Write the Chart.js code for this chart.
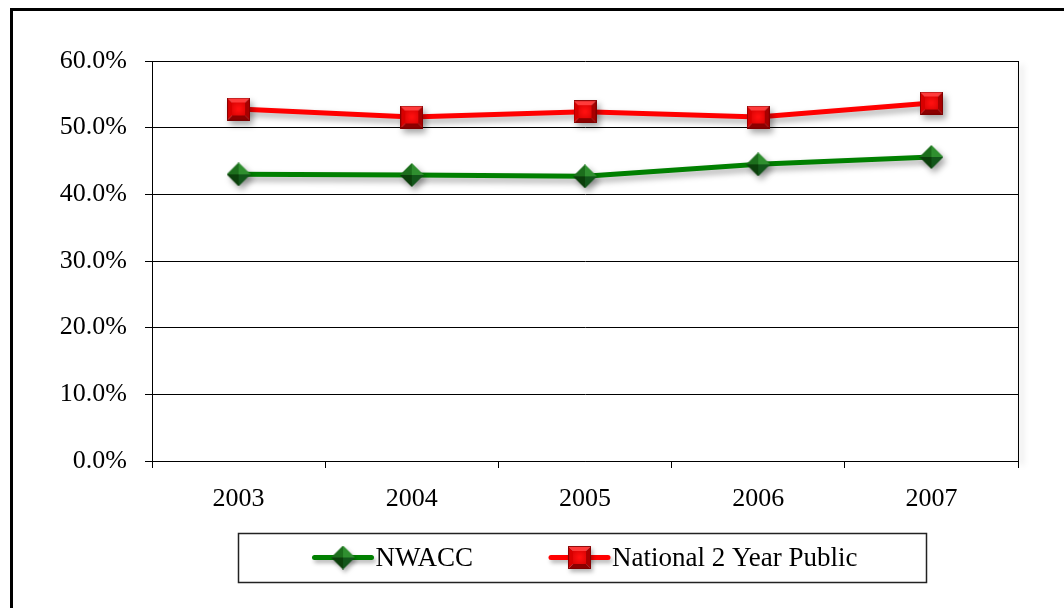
<!DOCTYPE html>
<html>
<head>
<meta charset="utf-8">
<script src="https://cdn.jsdelivr.net/npm/chart.js@4.4.0/dist/chart.umd.min.js"></script>
<style>
  html, body { margin: 0; padding: 0; background: #fff; }
  #wrap { width: 1064px; height: 608px; position: relative; }
</style>
</head>
<body>
<div id="wrap"><canvas id="chart"></canvas></div>
<script>
// data (percent)
const years = ['2003', '2004', '2005', '2006', '2007'];
const nwacc = [43.0, 42.9, 42.7, 44.5, 45.6];
const national = [52.8, 51.6, 52.4, 51.6, 53.7];
const seriesNames = ['NWACC', 'National 2 Year Public'];

const FONT = '"Liberation Serif", "Times New Roman", serif';

// beveled marker pictures
function makeSquare(size) {
  const c = document.createElement('canvas');
  c.width = c.height = size;
  const g = c.getContext('2d');
  const b = 5;
  const s = size;
  const facets = [
    [[0, 0], [s, 0], [s - b, b], [b, b], '#ff3b3b'],
    [[s, 0], [s, s], [s - b, s - b], [s - b, b], '#a80000'],
    [[s, s], [0, s], [b, s - b], [s - b, s - b], '#8c0000'],
    [[0, s], [0, 0], [b, b], [b, s - b], '#d80000']
  ];
  facets.forEach(f => {
    g.beginPath();
    g.moveTo(f[0][0], f[0][1]);
    for (let i = 1; i < 4; i++) g.lineTo(f[i][0], f[i][1]);
    g.closePath();
    g.fillStyle = f[4];
    g.fill();
  });
  const grd = g.createRadialGradient(s / 2, s / 2, 1, s / 2, s / 2, s / 2);
  grd.addColorStop(0, '#ff1010');
  grd.addColorStop(1, '#d00000');
  g.fillStyle = grd;
  g.fillRect(b, b, s - 2 * b, s - 2 * b);
  g.strokeStyle = 'rgba(120,0,0,0.8)';
  g.lineWidth = 1;
  g.strokeRect(0.5, 0.5, s - 1, s - 1);
  return c;
}

function makeDiamond(size) {
  const c = document.createElement('canvas');
  c.width = c.height = size;
  const g = c.getContext('2d');
  const h = size / 2;
  const pts = [[h, 0], [size, h], [h, size], [0, h]];
  const shades = ['#2f8f2f', '#12561a', '#0b3f0b', '#1c6e1c'];
  for (let i = 0; i < 4; i++) {
    const a = pts[i], b = pts[(i + 1) % 4];
    g.beginPath();
    g.moveTo(a[0], a[1]);
    g.lineTo(b[0], b[1]);
    g.lineTo(h, h);
    g.closePath();
    g.fillStyle = shades[i];
    g.fill();
  }
  return c;
}

const diamondImg = makeDiamond(24);
const squareImg = makeSquare(23);

const shadowPlugin = {
  id: 'shadow',
  beforeDatasetsDraw(chart) {
    const ctx = chart.ctx;
    ctx.save();
    ctx.shadowColor = 'rgba(0,0,0,0.35)';
    ctx.shadowBlur = 6;
    ctx.shadowOffsetX = 3;
    ctx.shadowOffsetY = 4;
  },
  afterDatasetsDraw(chart) {
    chart.ctx.restore();
  }
};

const framePlugin = {
  id: 'frame',
  beforeDatasetsDraw(chart) {
    const { ctx, chartArea } = chart;
    ctx.save();
    ctx.strokeStyle = '#000';
    ctx.lineWidth = 1;
    ctx.beginPath();
    ctx.moveTo(Math.round(chartArea.right) + 0.5, chartArea.top);
    ctx.lineTo(Math.round(chartArea.right) + 0.5, chartArea.bottom);
    ctx.stroke();
    ctx.restore();
  },
  afterDraw(chart) {
    const ctx = chart.ctx;
    ctx.save();
    // outer frame, cut by the right and bottom edges
    ctx.strokeStyle = '#000';
    ctx.lineWidth = 3;
    ctx.strokeRect(11.5, 9.5, 1200, 800);

    // legend box
    const box = { x: 238, y: 533, w: 688, h: 49 };
    ctx.lineWidth = 1.5;
    ctx.strokeStyle = '#222';
    ctx.strokeRect(box.x + 0.5, box.y + 0.5, box.w, box.h);

    ctx.font = '27px ' + FONT;
    ctx.textBaseline = 'middle';
    ctx.fillStyle = '#000';
    const lineLen = 57, gapText = 4, gapItem = 78;
    const items = chart.data.datasets.map(ds => ({
      label: ds.label, color: ds.borderColor, img: ds.pointStyle,
      tw: ctx.measureText(ds.label).width
    }));
    let total = 0;
    items.forEach((it, i) => {
      total += lineLen + gapText + it.tw + (i < items.length - 1 ? gapItem : 0);
    });
    let x = box.x + (box.w - total) / 2 + 4;
    const cy = box.y + box.h / 2;
    items.forEach(it => {
      ctx.save();
      ctx.shadowColor = 'rgba(0,0,0,0.3)';
      ctx.shadowBlur = 4;
      ctx.shadowOffsetX = 2;
      ctx.shadowOffsetY = 3;
      ctx.strokeStyle = it.color;
      ctx.lineWidth = 5;
      ctx.lineCap = 'round';
      ctx.beginPath();
      ctx.moveTo(x, cy);
      ctx.lineTo(x + lineLen, cy);
      ctx.stroke();
      ctx.drawImage(it.img, x + lineLen / 2 - it.img.width / 2, cy - it.img.height / 2);
      ctx.restore();
      ctx.fillText(it.label, x + lineLen + gapText, cy + 1);
      x += lineLen + gapText + it.tw + gapItem;
    });
    ctx.restore();
  }
};

new Chart(document.getElementById('chart'), {
  type: 'line',
  data: {
    labels: years,
    datasets: [
      {
        label: seriesNames[0],
        data: nwacc,
        borderColor: '#008000',
        borderWidth: 5,
        pointStyle: diamondImg,
        tension: 0
      },
      {
        label: seriesNames[1],
        data: national,
        borderColor: '#ff0000',
        borderWidth: 5,
        pointStyle: squareImg,
        tension: 0
      }
    ]
  },
  options: {
    responsive: true,
    maintainAspectRatio: false,
    animation: false,
    devicePixelRatio: 1,
    layout: { padding: { top: 61, right: 46, bottom: 87, left: 0 } },
    plugins: {
      legend: { display: false },
      tooltip: { enabled: false }
    },
    scales: {
      x: {
        offset: true,
        grid: {
          offset: true,
          drawOnChartArea: false,
          color: '#000',
          tickLength: 7
        },
        border: { display: true, color: '#000', width: 1 },
        ticks: {
          color: '#000',
          font: { family: FONT, size: 26 },
          padding: 16,
          maxRotation: 0
        },
        afterFit(scale) { scale.height = 60; }
      },
      y: {
        min: 0,
        max: 60,
        grid: { color: '#000', lineWidth: 1, tickLength: 7 },
        border: { display: true, color: '#000', width: 1 },
        ticks: {
          stepSize: 10,
          color: '#000',
          font: { family: FONT, size: 26 },
          padding: 18,
          callback: v => v.toFixed(1) + '%'
        },
        afterFit(scale) { scale.width = 152; }
      }
    }
  },
  plugins: [shadowPlugin, framePlugin]
});
</script>
</body>
</html>
